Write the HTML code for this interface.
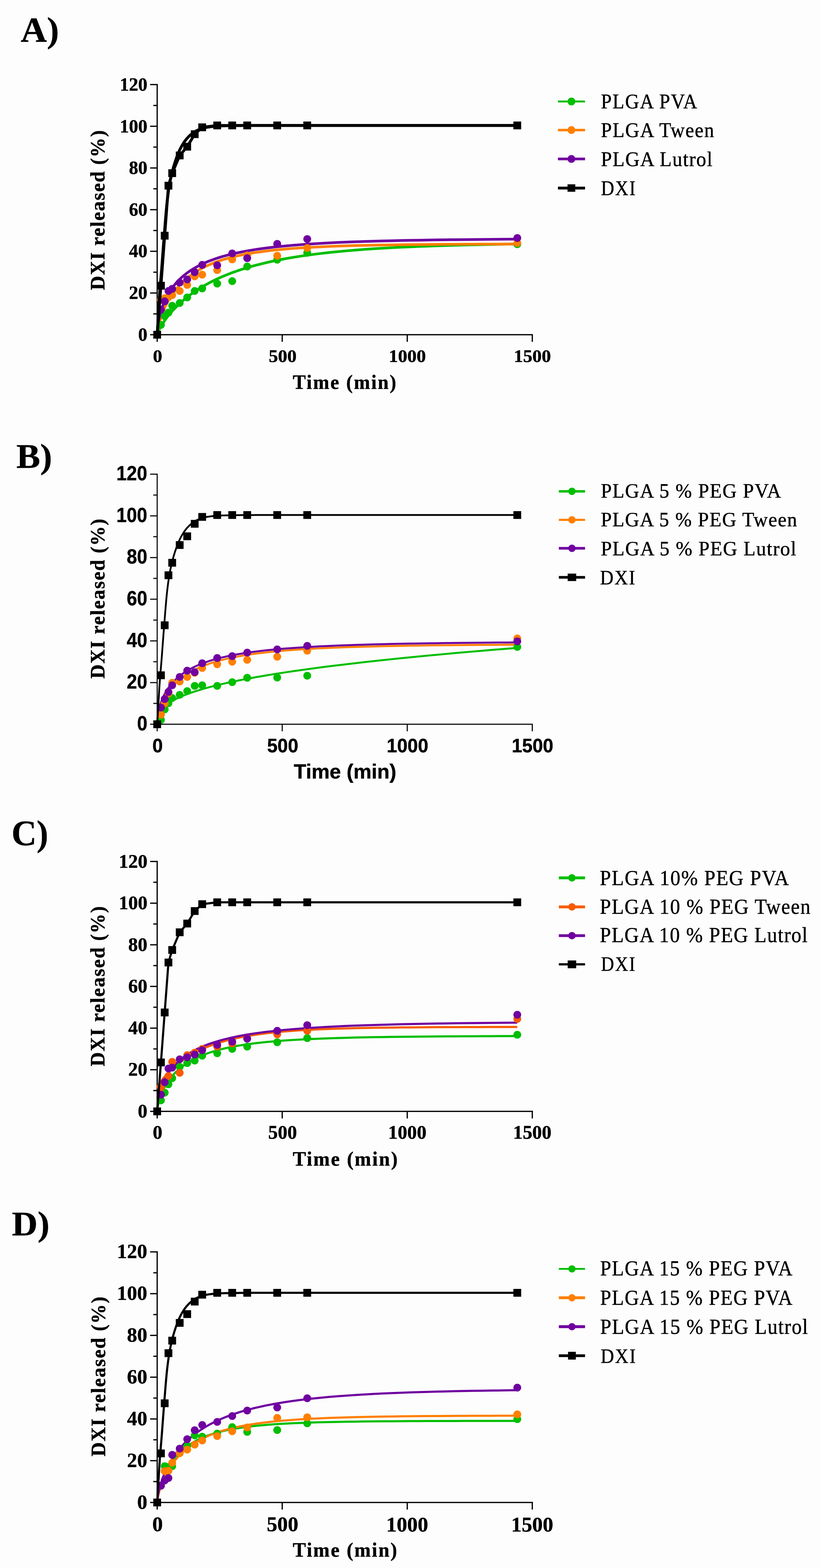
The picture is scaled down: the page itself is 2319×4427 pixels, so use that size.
<!DOCTYPE html>
<html><head><meta charset="utf-8"><title>DXI release profiles</title>
<style>
html,body{margin:0;padding:0;background:#fdfdfd;}
svg{display:block;}
text{fill:#000;stroke:#000;stroke-width:0.7px;}
</style></head><body>
<svg width="2319" height="4427" viewBox="0 0 2319 4427">
<rect width="2319" height="4427" fill="#fdfdfd"/>
<g><text transform="translate(58.58 117.62) scale(1.03 1)" font-family="Liberation Serif, serif" font-weight="bold" font-size="99.44">A)</text>
<path d="M444 238.8 V945 H1503.5" fill="none" stroke="#000" stroke-width="3.5" stroke-linecap="square"/>
<path d="M424 945 H444 M433 886.15 H444 M424 827.3 H444 M433 768.45 H444 M424 709.6 H444 M433 650.75 H444 M424 591.9 H444 M433 533.05 H444 M424 474.2 H444 M433 415.35 H444 M424 356.5 H444 M433 297.65 H444 M424 238.8 H444 M444 945 V965 M797.17 945 V965 M1150.33 945 V965 M1503.5 945 V965" fill="none" stroke="#000" stroke-width="3.5"/>
<text transform="translate(390.23 961.77) scale(0.98 1)" font-family="Liberation Serif, serif" font-weight="bold" font-size="53.24">0</text>
<text transform="translate(364.18 844.07) scale(0.98 1)" font-family="Liberation Serif, serif" font-weight="bold" font-size="53.24">20</text>
<text transform="translate(364.18 726.37) scale(0.98 1)" font-family="Liberation Serif, serif" font-weight="bold" font-size="53.24">40</text>
<text transform="translate(364.18 608.67) scale(0.98 1)" font-family="Liberation Serif, serif" font-weight="bold" font-size="53.24">60</text>
<text transform="translate(364.18 490.97) scale(0.98 1)" font-family="Liberation Serif, serif" font-weight="bold" font-size="53.24">80</text>
<text transform="translate(338.13 373.54) scale(0.98 1)" font-family="Liberation Serif, serif" font-weight="bold" font-size="53.24">100</text>
<text transform="translate(338.13 255.84) scale(0.98 1)" font-family="Liberation Serif, serif" font-weight="bold" font-size="53.24">120</text>
<text transform="translate(431.93 1021.51) scale(1.02 1)" font-family="Liberation Serif, serif" font-weight="bold" font-size="51.47">0</text>
<text transform="translate(758.95 1021.51) scale(1.02 1)" font-family="Liberation Serif, serif" font-weight="bold" font-size="51.47">500</text>
<text transform="translate(1098 1021.77) scale(1.02 1)" font-family="Liberation Serif, serif" font-weight="bold" font-size="51.47">1000</text>
<text transform="translate(1451.17 1021.77) scale(1.02 1)" font-family="Liberation Serif, serif" font-weight="bold" font-size="51.47">1500</text>
<text transform="translate(826.9 1097.96) scale(0.96 1)" font-family="Liberation Serif, serif" font-weight="bold" font-size="57.33" letter-spacing="3.34">Time (min)</text>
<text transform="translate(294.92 819.11) rotate(-90) scale(0.99 1)" font-family="Liberation Serif, serif" font-weight="bold" font-size="56.11" letter-spacing="2.41">DXI released (%)</text>
<path d="M444 945 L444.35 943.53 L444.71 942.39 L445.06 941.36 L445.41 940.4 L445.77 939.48 L446.12 938.59 L446.47 937.73 L446.83 936.9 L447.84 934.61 L448.85 932.45 L449.87 930.38 L450.88 928.4 L451.9 926.47 L452.91 924.61 L453.92 922.79 L454.94 921.02 L455.95 919.3 L456.97 917.61 L457.98 915.95 L459 914.33 L460.01 912.73 L461.02 911.17 L462.04 909.63 L463.05 908.12 L464.07 906.63 L465.08 905.17 L466.1 903.72 L467.11 902.3 L468.12 900.9 L469.14 899.51 L470.15 898.15 L471.17 896.8 L472.18 895.47 L473.2 894.16 L474.21 892.86 L475.22 891.58 L476.24 890.31 L477.25 889.06 L478.27 887.82 L479.28 886.6 L480.29 885.38 L481.31 884.19 L482.32 883 L483.34 881.83 L484.35 880.67 L485.37 879.52 L486.38 878.38 L490.45 873.93 L494.52 869.65 L498.59 865.52 L502.66 861.53 L506.73 857.68 L510.8 853.95 L514.87 850.35 L518.94 846.85 L523.01 843.46 L527.08 840.17 L531.15 836.97 L535.22 833.87 L539.3 830.85 L543.37 827.92 L547.44 825.06 L551.51 822.28 L555.58 819.57 L559.65 816.94 L563.72 814.36 L567.79 811.86 L571.86 809.42 L575.93 807.03 L580 804.71 L584.07 802.44 L588.14 800.22 L592.21 798.06 L596.28 795.94 L600.35 793.88 L604.42 791.86 L608.49 789.89 L612.56 787.96 L616.63 786.08 L620.7 784.24 L624.77 782.44 L628.84 780.67 L632.91 778.95 L636.98 777.26 L641.06 775.61 L645.13 774 L649.2 772.42 L653.27 770.87 L657.34 769.35 L661.41 767.87 L665.48 766.42 L669.55 764.99 L673.62 763.6 L677.69 762.23 L681.76 760.89 L685.83 759.58 L689.9 758.3 L693.97 757.04 L698.04 755.8 L702.11 754.59 L706.18 753.4 L710.25 752.24 L714.32 751.1 L718.39 749.98 L722.46 748.88 L726.53 747.81 L751.86 741.55 L777.19 736 L802.53 731.04 L827.86 726.61 L853.19 722.65 L878.52 719.09 L903.85 715.9 L929.18 713.03 L954.51 710.44 L979.84 708.11 L1005.17 706 L1030.5 704.09 L1055.83 702.36 L1081.16 700.8 L1106.49 699.38 L1131.82 698.1 L1157.15 696.93 L1182.48 695.86 L1207.81 694.9 L1233.14 694.02 L1258.48 693.21 L1283.81 692.48 L1309.14 691.81 L1334.47 691.2 L1359.8 690.65 L1385.13 690.14 L1410.46 689.67 L1435.79 689.25 L1461.12 688.86" fill="none" stroke="#00be00" stroke-width="7.5" stroke-linejoin="round"/>
<path d="M444 945 L444.35 940.73 L444.71 937.9 L445.06 935.46 L445.41 933.24 L445.77 931.18 L446.12 929.25 L446.47 927.41 L446.83 925.65 L447.84 920.95 L448.85 916.64 L449.87 912.64 L450.88 908.88 L451.9 905.32 L452.91 901.94 L453.92 898.7 L454.94 895.59 L455.95 892.61 L456.97 889.72 L457.98 886.94 L459 884.24 L460.01 881.63 L461.02 879.1 L462.04 876.63 L463.05 874.23 L464.07 871.9 L465.08 869.62 L466.1 867.4 L467.11 865.24 L468.12 863.12 L469.14 861.05 L470.15 859.03 L471.17 857.05 L472.18 855.11 L473.2 853.21 L474.21 851.35 L475.22 849.53 L476.24 847.74 L477.25 845.99 L478.27 844.27 L479.28 842.58 L480.29 840.92 L481.31 839.29 L482.32 837.69 L483.34 836.12 L484.35 834.57 L485.37 833.05 L486.38 831.56 L490.45 825.8 L494.52 820.4 L498.59 815.31 L502.66 810.52 L506.73 805.98 L510.8 801.69 L514.87 797.61 L518.94 793.74 L523.01 790.06 L527.08 786.55 L531.15 783.2 L535.22 780.01 L539.3 776.96 L543.37 774.04 L547.44 771.25 L551.51 768.58 L555.58 766.02 L559.65 763.56 L563.72 761.2 L567.79 758.94 L571.86 756.76 L575.93 754.67 L580 752.66 L584.07 750.72 L588.14 748.86 L592.21 747.07 L596.28 745.34 L600.35 743.67 L604.42 742.06 L608.49 740.51 L612.56 739.02 L616.63 737.57 L620.7 736.18 L624.77 734.83 L628.84 733.53 L632.91 732.27 L636.98 731.06 L641.06 729.88 L645.13 728.75 L649.2 727.65 L653.27 726.58 L657.34 725.55 L661.41 724.55 L665.48 723.58 L669.55 722.65 L673.62 721.74 L677.69 720.86 L681.76 720.01 L685.83 719.18 L689.9 718.38 L693.97 717.61 L698.04 716.85 L702.11 716.12 L706.18 715.41 L710.25 714.73 L714.32 714.06 L718.39 713.41 L722.46 712.78 L726.53 712.17 L751.86 708.73 L777.19 705.86 L802.53 703.43 L827.86 701.38 L853.19 699.64 L878.52 698.15 L903.85 696.88 L929.18 695.8 L954.51 694.86 L979.84 694.05 L1005.17 693.36 L1030.5 692.75 L1055.83 692.23 L1081.16 691.78 L1106.49 691.38 L1131.82 691.04 L1157.15 690.73 L1182.48 690.47 L1207.81 690.24 L1233.14 690.04 L1258.48 689.86 L1283.81 689.7 L1309.14 689.56 L1334.47 689.44 L1359.8 689.34 L1385.13 689.24 L1410.46 689.16 L1435.79 689.08 L1461.12 689.02" fill="none" stroke="#ff7f00" stroke-width="7.5" stroke-linejoin="round"/>
<path d="M444 945 L444.35 936.1 L444.71 931.39 L445.06 927.59 L445.41 924.29 L445.77 921.32 L446.12 918.61 L446.47 916.08 L446.83 913.71 L447.84 907.57 L448.85 902.15 L449.87 897.25 L450.88 892.76 L451.9 888.59 L452.91 884.69 L453.92 881.02 L454.94 877.55 L455.95 874.25 L456.97 871.11 L457.98 868.1 L459 865.22 L460.01 862.45 L461.02 859.79 L462.04 857.22 L463.05 854.73 L464.07 852.33 L465.08 850.01 L466.1 847.75 L467.11 845.57 L468.12 843.44 L469.14 841.37 L470.15 839.36 L471.17 837.41 L472.18 835.5 L473.2 833.63 L474.21 831.82 L475.22 830.04 L476.24 828.31 L477.25 826.62 L478.27 824.96 L479.28 823.34 L480.29 821.76 L481.31 820.2 L482.32 818.68 L483.34 817.19 L484.35 815.73 L485.37 814.3 L486.38 812.89 L490.45 807.5 L494.52 802.49 L498.59 797.8 L502.66 793.41 L506.73 789.28 L510.8 785.38 L514.87 781.7 L518.94 778.21 L523.01 774.9 L527.08 771.76 L531.15 768.76 L535.22 765.91 L539.3 763.19 L543.37 760.59 L547.44 758.1 L551.51 755.72 L555.58 753.44 L559.65 751.24 L563.72 749.14 L567.79 747.12 L571.86 745.18 L575.93 743.3 L580 741.5 L584.07 739.77 L588.14 738.09 L592.21 736.48 L596.28 734.92 L600.35 733.41 L604.42 731.96 L608.49 730.55 L612.56 729.19 L616.63 727.87 L620.7 726.6 L624.77 725.36 L628.84 724.17 L632.91 723.01 L636.98 721.89 L641.06 720.8 L645.13 719.74 L649.2 718.71 L653.27 717.71 L657.34 716.75 L661.41 715.81 L665.48 714.89 L669.55 714 L673.62 713.14 L677.69 712.3 L681.76 711.48 L685.83 710.69 L689.9 709.92 L693.97 709.16 L698.04 708.43 L702.11 707.72 L706.18 707.02 L710.25 706.34 L714.32 705.68 L718.39 705.04 L722.46 704.41 L726.53 703.8 L751.86 700.31 L777.19 697.31 L802.53 694.71 L827.86 692.44 L853.19 690.46 L878.52 688.72 L903.85 687.18 L929.18 685.83 L954.51 684.62 L979.84 683.55 L1005.17 682.59 L1030.5 681.74 L1055.83 680.97 L1081.16 680.28 L1106.49 679.66 L1131.82 679.1 L1157.15 678.59 L1182.48 678.14 L1207.81 677.72 L1233.14 677.34 L1258.48 677 L1283.81 676.69 L1309.14 676.4 L1334.47 676.15 L1359.8 675.91 L1385.13 675.69 L1410.46 675.49 L1435.79 675.31 L1461.12 675.14" fill="none" stroke="#7000a0" stroke-width="7.5" stroke-linejoin="round"/>
<circle cx="444" cy="945" r="11" fill="#00be00"/>
<circle cx="454.6" cy="917.34" r="11" fill="#00be00"/>
<circle cx="465.19" cy="892.62" r="11" fill="#00be00"/>
<circle cx="475.79" cy="882.62" r="11" fill="#00be00"/>
<circle cx="486.38" cy="863.2" r="11" fill="#00be00"/>
<circle cx="507.57" cy="855.55" r="11" fill="#00be00"/>
<circle cx="528.76" cy="839.66" r="11" fill="#00be00"/>
<circle cx="549.95" cy="821.41" r="11" fill="#00be00"/>
<circle cx="571.14" cy="814.35" r="11" fill="#00be00"/>
<circle cx="613.52" cy="800.82" r="11" fill="#00be00"/>
<circle cx="655.9" cy="793.76" r="11" fill="#00be00"/>
<circle cx="698.28" cy="752.56" r="11" fill="#00be00"/>
<circle cx="783.04" cy="733.14" r="11" fill="#00be00"/>
<circle cx="867.8" cy="713.72" r="11" fill="#00be00"/>
<circle cx="1461.12" cy="689.59" r="11" fill="#00be00"/>
<circle cx="444" cy="945" r="11" fill="#ff7f00"/>
<circle cx="454.6" cy="846.72" r="11" fill="#ff7f00"/>
<circle cx="465.19" cy="842.01" r="11" fill="#ff7f00"/>
<circle cx="475.79" cy="839.07" r="11" fill="#ff7f00"/>
<circle cx="486.38" cy="833.18" r="11" fill="#ff7f00"/>
<circle cx="507.57" cy="821.41" r="11" fill="#ff7f00"/>
<circle cx="528.76" cy="804.35" r="11" fill="#ff7f00"/>
<circle cx="549.95" cy="780.22" r="11" fill="#ff7f00"/>
<circle cx="571.14" cy="775.51" r="11" fill="#ff7f00"/>
<circle cx="613.52" cy="762.56" r="11" fill="#ff7f00"/>
<circle cx="655.9" cy="732.55" r="11" fill="#ff7f00"/>
<circle cx="698.28" cy="721.37" r="11" fill="#ff7f00"/>
<circle cx="783.04" cy="721.96" r="11" fill="#ff7f00"/>
<circle cx="867.8" cy="700.18" r="11" fill="#ff7f00"/>
<circle cx="1461.12" cy="686.06" r="11" fill="#ff7f00"/>
<circle cx="444" cy="945" r="11" fill="#7000a0"/>
<circle cx="454.6" cy="874.38" r="11" fill="#7000a0"/>
<circle cx="465.19" cy="850.84" r="11" fill="#7000a0"/>
<circle cx="475.79" cy="821.41" r="11" fill="#7000a0"/>
<circle cx="486.38" cy="815.53" r="11" fill="#7000a0"/>
<circle cx="507.57" cy="797.88" r="11" fill="#7000a0"/>
<circle cx="528.76" cy="789.05" r="11" fill="#7000a0"/>
<circle cx="549.95" cy="768.45" r="11" fill="#7000a0"/>
<circle cx="571.14" cy="747.85" r="11" fill="#7000a0"/>
<circle cx="613.52" cy="749.03" r="11" fill="#7000a0"/>
<circle cx="655.9" cy="715.49" r="11" fill="#7000a0"/>
<circle cx="698.28" cy="729.02" r="11" fill="#7000a0"/>
<circle cx="783.04" cy="688.41" r="11" fill="#7000a0"/>
<circle cx="867.8" cy="674.88" r="11" fill="#7000a0"/>
<circle cx="1461.12" cy="671.94" r="11" fill="#7000a0"/>
<path d="M444 945 L445.41 921.46 L446.83 897.92 L448.24 874.1 L449.65 849.57 L451.06 827.3 L452.48 808.82 L453.89 792.26 L455.3 775.91 L456.71 758.26 L458.13 739.65 L459.54 720.62 L460.95 701.6 L462.36 682.99 L463.78 665.2 L465.19 647.53 L466.6 629.8 L468.02 612.49 L469.43 596.06 L470.84 580.99 L472.25 567.75 L473.67 555.97 L475.08 545.12 L476.49 535.2 L477.9 526.21 L479.32 518.16 L480.73 510.76 L482.14 503.81 L483.55 497.28 L484.97 491.14 L486.38 485.35 L489.91 472.26 L493.44 460.64 L496.98 449.91 L500.51 440.08 L504.04 431.19 L507.57 423.3 L511.1 416.39 L514.63 410.06 L518.16 404.26 L521.7 399 L525.23 394.29 L528.76 390.14 L532.29 386.44 L535.82 382.96 L539.36 379.73 L542.89 376.76 L546.42 374.1 L549.95 371.77 L553.48 369.8 L557.01 368.12 L560.54 366.54 L564.08 365.07 L567.61 363.73 L571.14 362.51 L574.67 361.45 L578.2 360.54 L581.74 359.8 L585.27 359.23 L588.8 358.71 L592.33 358.23 L595.86 357.77 L599.39 357.35 L602.92 356.96 L606.46 356.61 L609.99 356.29 L613.52 356.01 L617.05 355.78 L620.58 355.58 L624.12 355.43 L627.65 355.32 L631.18 355.24 L634.71 355.16 L638.24 355.09 L641.77 355.01 L645.31 354.94 L648.84 354.88 L652.37 354.81 L655.9 354.75 L659.43 354.69 L662.96 354.64 L666.5 354.58 L670.03 354.53 L673.56 354.49 L677.09 354.44 L680.62 354.4 L684.15 354.37 L687.68 354.33 L691.22 354.3 L694.75 354.27 L698.28 354.24 L701.81 354.22 L705.34 354.2 L708.88 354.18 L712.41 354.17 L715.94 354.16 L719.47 354.15 L723 354.15 L726.53 354.15 L754.79 354.15 L783.04 354.15 L811.29 354.15 L839.55 354.15 L867.8 354.15 L896.05 354.15 L924.31 354.15 L952.56 354.15 L980.81 354.15 L1009.07 354.15 L1037.32 354.15 L1065.57 354.15 L1093.83 354.15 L1122.08 354.15 L1150.33 354.15 L1178.59 354.15 L1206.84 354.15 L1235.09 354.15 L1263.35 354.15 L1291.6 354.15 L1319.85 354.15 L1348.11 354.15 L1376.36 354.15 L1404.61 354.15 L1432.87 354.15 L1461.12 354.15" fill="none" stroke="#000" stroke-width="8" stroke-linejoin="round"/>
<path d="M444 945 L454.6 806.7 L465.19 665.46 L475.79 524.22 L486.38 488.91 L507.57 438.89 L528.76 414.17 L549.95 378.86 L571.14 359.44 L613.52 354.15 L655.9 354.15 L698.28 354.15 L783.04 354.15 L867.8 354.15 L1461.12 354.15" fill="none" stroke="#000" stroke-width="8" stroke-linejoin="round"/>
<rect x="433" y="934" width="22" height="22" fill="#000"/>
<rect x="443.6" y="795.7" width="22" height="22" fill="#000"/>
<rect x="454.19" y="654.46" width="22" height="22" fill="#000"/>
<rect x="464.79" y="513.22" width="22" height="22" fill="#000"/>
<rect x="475.38" y="477.91" width="22" height="22" fill="#000"/>
<rect x="496.57" y="427.89" width="22" height="22" fill="#000"/>
<rect x="517.76" y="403.17" width="22" height="22" fill="#000"/>
<rect x="538.95" y="367.86" width="22" height="22" fill="#000"/>
<rect x="560.14" y="348.44" width="22" height="22" fill="#000"/>
<rect x="602.52" y="343.15" width="22" height="22" fill="#000"/>
<rect x="644.9" y="343.15" width="22" height="22" fill="#000"/>
<rect x="687.28" y="343.15" width="22" height="22" fill="#000"/>
<rect x="772.04" y="343.15" width="22" height="22" fill="#000"/>
<rect x="856.8" y="343.15" width="22" height="22" fill="#000"/>
<rect x="1450.12" y="343.15" width="22" height="22" fill="#000"/>
<path d="M1576 286.6 H1652.5" stroke="#00be00" stroke-width="5.5"/>
<circle cx="1614" cy="286.6" r="11" fill="#00be00"/>
<text transform="translate(1697.36 305.6) scale(0.93 1)" font-family="Liberation Serif, serif" font-size="58.77" letter-spacing="2.49">PLGA PVA</text>
<path d="M1576 367.2 H1652.5" stroke="#ff7f00" stroke-width="7"/>
<circle cx="1614" cy="367.2" r="11" fill="#ff7f00"/>
<text transform="translate(1697.35 386.9) scale(0.94 1)" font-family="Liberation Serif, serif" font-size="58.77" letter-spacing="2.25">PLGA Tween</text>
<path d="M1576 448.7 H1652.5" stroke="#7000a0" stroke-width="7.5"/>
<circle cx="1614" cy="448.7" r="11" fill="#7000a0"/>
<text transform="translate(1697.32 469) scale(0.95 1)" font-family="Liberation Serif, serif" font-size="58.77" letter-spacing="1.97">PLGA Lutrol</text>
<path d="M1576 530.9 H1652.5" stroke="#000" stroke-width="8"/>
<rect x="1603" y="520.4" width="22" height="21" fill="#000"/>
<text transform="translate(1697.45 550.7) scale(0.88 1)" font-family="Liberation Serif, serif" font-size="58.77" letter-spacing="3.21">DXI</text></g>
<g><text transform="translate(46.18 1320.62) scale(1.03 1)" font-family="Liberation Serif, serif" font-weight="bold" font-size="98">B)</text>
<path d="M444 1338.8 V2044.8 H1503.5" fill="none" stroke="#000" stroke-width="3" stroke-linecap="square"/>
<path d="M424 2044.8 H444 M433 1985.97 H444 M424 1927.13 H444 M433 1868.3 H444 M424 1809.47 H444 M433 1750.63 H444 M424 1691.8 H444 M433 1632.97 H444 M424 1574.13 H444 M433 1515.3 H444 M424 1456.47 H444 M433 1397.63 H444 M424 1338.8 H444 M444 2044.8 V2064.8 M797.17 2044.8 V2064.8 M1150.33 2044.8 V2064.8 M1503.5 2044.8 V2064.8" fill="none" stroke="#000" stroke-width="3"/>
<text transform="translate(387.16 2062.13) scale(0.91 1)" font-family="Liberation Sans, sans-serif" font-weight="bold" font-size="57.46">0</text>
<text transform="translate(357.91 1944.46) scale(0.91 1)" font-family="Liberation Sans, sans-serif" font-weight="bold" font-size="57.46">20</text>
<text transform="translate(357.91 1826.79) scale(0.91 1)" font-family="Liberation Sans, sans-serif" font-weight="bold" font-size="57.46">40</text>
<text transform="translate(357.91 1709.13) scale(0.91 1)" font-family="Liberation Sans, sans-serif" font-weight="bold" font-size="57.46">60</text>
<text transform="translate(357.91 1591.46) scale(0.91 1)" font-family="Liberation Sans, sans-serif" font-weight="bold" font-size="57.46">80</text>
<text transform="translate(328.67 1473.79) scale(0.91 1)" font-family="Liberation Sans, sans-serif" font-weight="bold" font-size="57.46">100</text>
<text transform="translate(328.67 1356.13) scale(0.91 1)" font-family="Liberation Sans, sans-serif" font-weight="bold" font-size="57.46">120</text>
<text transform="translate(430.5 2123.84) scale(0.94 1)" font-family="Liberation Sans, sans-serif" font-weight="bold" font-size="56.2">0</text>
<text transform="translate(754.4 2123.84) scale(0.94 1)" font-family="Liberation Sans, sans-serif" font-weight="bold" font-size="56.2">500</text>
<text transform="translate(1092.27 2123.84) scale(0.94 1)" font-family="Liberation Sans, sans-serif" font-weight="bold" font-size="56.2">1000</text>
<text transform="translate(1445.44 2123.84) scale(0.94 1)" font-family="Liberation Sans, sans-serif" font-weight="bold" font-size="56.2">1500</text>
<text transform="translate(829.82 2197.8) scale(0.99 1)" font-family="Liberation Sans, sans-serif" font-weight="bold" font-size="58.09">Time (min)</text>
<text transform="translate(295.22 1915.91) rotate(-90) scale(0.99 1)" font-family="Liberation Serif, serif" font-weight="bold" font-size="56.11" letter-spacing="2.41">DXI released (%)</text>
<path d="M444 2044.79 L444.35 2033.88 L444.71 2030.64 L445.06 2028.32 L445.41 2026.44 L445.77 2024.84 L446.12 2023.43 L446.47 2022.16 L446.83 2021 L447.84 2018.11 L448.85 2015.66 L449.87 2013.51 L450.88 2011.59 L451.9 2009.83 L452.91 2008.21 L453.92 2006.71 L454.94 2005.29 L455.95 2003.96 L456.97 2002.69 L457.98 2001.49 L459 2000.34 L460.01 1999.24 L461.02 1998.18 L462.04 1997.15 L463.05 1996.17 L464.07 1995.21 L465.08 1994.29 L466.1 1993.39 L467.11 1992.52 L468.12 1991.67 L469.14 1990.85 L470.15 1990.04 L471.17 1989.26 L472.18 1988.49 L473.2 1987.74 L474.21 1987.01 L475.22 1986.29 L476.24 1985.58 L477.25 1984.89 L478.27 1984.21 L479.28 1983.55 L480.29 1982.89 L481.31 1982.25 L482.32 1981.62 L483.34 1981 L484.35 1980.39 L485.37 1979.79 L486.38 1979.19 L490.45 1976.9 L494.52 1974.73 L498.59 1972.67 L502.66 1970.7 L506.73 1968.82 L510.8 1967.01 L514.87 1965.26 L518.94 1963.58 L523.01 1961.96 L527.08 1960.38 L531.15 1958.86 L535.22 1957.38 L539.3 1955.94 L543.37 1954.53 L547.44 1953.17 L551.51 1951.83 L555.58 1950.53 L559.65 1949.26 L563.72 1948.01 L567.79 1946.79 L571.86 1945.6 L575.93 1944.43 L580 1943.28 L584.07 1942.15 L588.14 1941.04 L592.21 1939.96 L596.28 1938.89 L600.35 1937.84 L604.42 1936.8 L608.49 1935.78 L612.56 1934.78 L616.63 1933.79 L620.7 1932.82 L624.77 1931.86 L628.84 1930.92 L632.91 1929.98 L636.98 1929.06 L641.06 1928.15 L645.13 1927.26 L649.2 1926.37 L653.27 1925.5 L657.34 1924.64 L661.41 1923.78 L665.48 1922.94 L669.55 1922.1 L673.62 1921.28 L677.69 1920.46 L681.76 1919.66 L685.83 1918.86 L689.9 1918.07 L693.97 1917.29 L698.04 1916.52 L702.11 1915.75 L706.18 1914.99 L710.25 1914.24 L714.32 1913.5 L718.39 1912.76 L722.46 1912.03 L726.53 1911.31 L751.86 1906.95 L777.19 1902.8 L802.53 1898.85 L827.86 1895.08 L853.19 1891.45 L878.52 1887.96 L903.85 1884.6 L929.18 1881.35 L954.51 1878.21 L979.84 1875.16 L1005.17 1872.2 L1030.5 1869.32 L1055.83 1866.52 L1081.16 1863.8 L1106.49 1861.13 L1131.82 1858.54 L1157.15 1856 L1182.48 1853.51 L1207.81 1851.08 L1233.14 1848.7 L1258.48 1846.37 L1283.81 1844.08 L1309.14 1841.84 L1334.47 1839.63 L1359.8 1837.47 L1385.13 1835.34 L1410.46 1833.24 L1435.79 1831.19 L1461.12 1829.16" fill="none" stroke="#00be00" stroke-width="5.5" stroke-linejoin="round"/>
<path d="M444 2044.8 L444.35 2038.47 L444.71 2034.96 L445.06 2032.1 L445.41 2029.59 L445.77 2027.32 L446.12 2025.23 L446.47 2023.27 L446.83 2021.43 L447.84 2016.63 L448.85 2012.37 L449.87 2008.49 L450.88 2004.91 L451.9 2001.58 L452.91 1998.45 L453.92 1995.49 L454.94 1992.69 L455.95 1990.02 L456.97 1987.46 L457.98 1985.01 L459 1982.66 L460.01 1980.4 L461.02 1978.22 L462.04 1976.11 L463.05 1974.06 L464.07 1972.09 L465.08 1970.17 L466.1 1968.31 L467.11 1966.5 L468.12 1964.74 L469.14 1963.02 L470.15 1961.35 L471.17 1959.72 L472.18 1958.13 L473.2 1956.58 L474.21 1955.06 L475.22 1953.58 L476.24 1952.13 L477.25 1950.72 L478.27 1949.33 L479.28 1947.97 L480.29 1946.64 L481.31 1945.33 L482.32 1944.05 L483.34 1942.8 L484.35 1941.57 L485.37 1940.36 L486.38 1939.18 L490.45 1934.62 L494.52 1930.38 L498.59 1926.4 L502.66 1922.66 L506.73 1919.13 L510.8 1915.8 L514.87 1912.65 L518.94 1909.66 L523.01 1906.82 L527.08 1904.12 L531.15 1901.54 L535.22 1899.08 L539.3 1896.73 L543.37 1894.49 L547.44 1892.34 L551.51 1890.28 L555.58 1888.3 L559.65 1886.4 L563.72 1884.57 L567.79 1882.82 L571.86 1881.13 L575.93 1879.5 L580 1877.94 L584.07 1876.43 L588.14 1874.97 L592.21 1873.56 L596.28 1872.2 L600.35 1870.89 L604.42 1869.62 L608.49 1868.39 L612.56 1867.21 L616.63 1866.06 L620.7 1864.94 L624.77 1863.86 L628.84 1862.82 L632.91 1861.81 L636.98 1860.82 L641.06 1859.87 L645.13 1858.95 L649.2 1858.05 L653.27 1857.18 L657.34 1856.33 L661.41 1855.51 L665.48 1854.71 L669.55 1853.93 L673.62 1853.17 L677.69 1852.44 L681.76 1851.72 L685.83 1851.03 L689.9 1850.35 L693.97 1849.69 L698.04 1849.05 L702.11 1848.42 L706.18 1847.81 L710.25 1847.22 L714.32 1846.64 L718.39 1846.08 L722.46 1845.53 L726.53 1844.99 L751.86 1841.94 L777.19 1839.32 L802.53 1837.04 L827.86 1835.07 L853.19 1833.34 L878.52 1831.83 L903.85 1830.49 L929.18 1829.32 L954.51 1828.28 L979.84 1827.35 L1005.17 1826.53 L1030.5 1825.79 L1055.83 1825.13 L1081.16 1824.54 L1106.49 1824.01 L1131.82 1823.54 L1157.15 1823.11 L1182.48 1822.72 L1207.81 1822.37 L1233.14 1822.05 L1258.48 1821.77 L1283.81 1821.51 L1309.14 1821.27 L1334.47 1821.05 L1359.8 1820.86 L1385.13 1820.68 L1410.46 1820.51 L1435.79 1820.36 L1461.12 1820.23" fill="none" stroke="#ff7f00" stroke-width="5.5" stroke-linejoin="round"/>
<path d="M444 2044.8 L444.35 2035.62 L444.71 2031.08 L445.06 2027.49 L445.41 2024.41 L445.77 2021.66 L446.12 2019.16 L446.47 2016.86 L446.83 2014.7 L447.84 2009.17 L448.85 2004.33 L449.87 1999.99 L450.88 1996.04 L451.9 1992.39 L452.91 1989 L453.92 1985.81 L454.94 1982.81 L455.95 1979.97 L456.97 1977.28 L457.98 1974.7 L459 1972.24 L460.01 1969.88 L461.02 1967.62 L462.04 1965.44 L463.05 1963.34 L464.07 1961.31 L465.08 1959.35 L466.1 1957.45 L467.11 1955.61 L468.12 1953.83 L469.14 1952.09 L470.15 1950.41 L471.17 1948.77 L472.18 1947.18 L473.2 1945.62 L474.21 1944.11 L475.22 1942.63 L476.24 1941.19 L477.25 1939.78 L478.27 1938.41 L479.28 1937.06 L480.29 1935.75 L481.31 1934.46 L482.32 1933.2 L483.34 1931.97 L484.35 1930.76 L485.37 1929.57 L486.38 1928.41 L490.45 1923.97 L494.52 1919.85 L498.59 1916 L502.66 1912.39 L506.73 1909.01 L510.8 1905.82 L514.87 1902.81 L518.94 1899.96 L523.01 1897.26 L527.08 1894.7 L531.15 1892.26 L535.22 1889.93 L539.3 1887.72 L543.37 1885.6 L547.44 1883.57 L551.51 1881.63 L555.58 1879.77 L559.65 1877.99 L563.72 1876.27 L567.79 1874.63 L571.86 1873.04 L575.93 1871.52 L580 1870.05 L584.07 1868.63 L588.14 1867.26 L592.21 1865.95 L596.28 1864.67 L600.35 1863.44 L604.42 1862.25 L608.49 1861.1 L612.56 1859.99 L616.63 1858.91 L620.7 1857.87 L624.77 1856.85 L628.84 1855.87 L632.91 1854.92 L636.98 1854 L641.06 1853.1 L645.13 1852.23 L649.2 1851.39 L653.27 1850.56 L657.34 1849.77 L661.41 1848.99 L665.48 1848.24 L669.55 1847.5 L673.62 1846.79 L677.69 1846.09 L681.76 1845.42 L685.83 1844.76 L689.9 1844.11 L693.97 1843.49 L698.04 1842.88 L702.11 1842.28 L706.18 1841.71 L710.25 1841.14 L714.32 1840.59 L718.39 1840.05 L722.46 1839.53 L726.53 1839.01 L751.86 1836.09 L777.19 1833.55 L802.53 1831.34 L827.86 1829.4 L853.19 1827.69 L878.52 1826.18 L903.85 1824.84 L929.18 1823.65 L954.51 1822.58 L979.84 1821.63 L1005.17 1820.77 L1030.5 1819.99 L1055.83 1819.29 L1081.16 1818.66 L1106.49 1818.09 L1131.82 1817.57 L1157.15 1817.09 L1182.48 1816.66 L1207.81 1816.26 L1233.14 1815.9 L1258.48 1815.57 L1283.81 1815.27 L1309.14 1814.99 L1334.47 1814.73 L1359.8 1814.5 L1385.13 1814.28 L1410.46 1814.08 L1435.79 1813.89 L1461.12 1813.72" fill="none" stroke="#7000a0" stroke-width="5.5" stroke-linejoin="round"/>
<circle cx="444" cy="2044.8" r="11" fill="#00be00"/>
<circle cx="454.6" cy="2032.44" r="11" fill="#00be00"/>
<circle cx="465.19" cy="2003.03" r="11" fill="#00be00"/>
<circle cx="475.79" cy="1985.38" r="11" fill="#00be00"/>
<circle cx="486.38" cy="1970.67" r="11" fill="#00be00"/>
<circle cx="507.57" cy="1961.85" r="11" fill="#00be00"/>
<circle cx="528.76" cy="1951.25" r="11" fill="#00be00"/>
<circle cx="549.95" cy="1936.55" r="11" fill="#00be00"/>
<circle cx="571.14" cy="1934.78" r="11" fill="#00be00"/>
<circle cx="613.52" cy="1936.55" r="11" fill="#00be00"/>
<circle cx="655.9" cy="1925.96" r="11" fill="#00be00"/>
<circle cx="698.28" cy="1913.6" r="11" fill="#00be00"/>
<circle cx="783.04" cy="1913.01" r="11" fill="#00be00"/>
<circle cx="867.8" cy="1907.72" r="11" fill="#00be00"/>
<circle cx="1461.12" cy="1826.53" r="11" fill="#00be00"/>
<circle cx="444" cy="2044.8" r="11" fill="#ff7f00"/>
<circle cx="454.6" cy="2017.74" r="11" fill="#ff7f00"/>
<circle cx="465.19" cy="1985.97" r="11" fill="#ff7f00"/>
<circle cx="475.79" cy="1958.32" r="11" fill="#ff7f00"/>
<circle cx="486.38" cy="1927.72" r="11" fill="#ff7f00"/>
<circle cx="507.57" cy="1924.19" r="11" fill="#ff7f00"/>
<circle cx="528.76" cy="1911.25" r="11" fill="#ff7f00"/>
<circle cx="549.95" cy="1899.48" r="11" fill="#ff7f00"/>
<circle cx="571.14" cy="1885.95" r="11" fill="#ff7f00"/>
<circle cx="613.52" cy="1875.36" r="11" fill="#ff7f00"/>
<circle cx="655.9" cy="1868.3" r="11" fill="#ff7f00"/>
<circle cx="698.28" cy="1863" r="11" fill="#ff7f00"/>
<circle cx="783.04" cy="1854.18" r="11" fill="#ff7f00"/>
<circle cx="867.8" cy="1837.12" r="11" fill="#ff7f00"/>
<circle cx="1461.12" cy="1802.41" r="11" fill="#ff7f00"/>
<circle cx="444" cy="2044.8" r="11" fill="#7000a0"/>
<circle cx="454.6" cy="1997.73" r="11" fill="#7000a0"/>
<circle cx="465.19" cy="1973.61" r="11" fill="#7000a0"/>
<circle cx="475.79" cy="1953.61" r="11" fill="#7000a0"/>
<circle cx="486.38" cy="1934.78" r="11" fill="#7000a0"/>
<circle cx="507.57" cy="1911.25" r="11" fill="#7000a0"/>
<circle cx="528.76" cy="1893.6" r="11" fill="#7000a0"/>
<circle cx="549.95" cy="1897.72" r="11" fill="#7000a0"/>
<circle cx="571.14" cy="1872.42" r="11" fill="#7000a0"/>
<circle cx="613.52" cy="1857.71" r="11" fill="#7000a0"/>
<circle cx="655.9" cy="1852.41" r="11" fill="#7000a0"/>
<circle cx="698.28" cy="1842.41" r="11" fill="#7000a0"/>
<circle cx="783.04" cy="1833.59" r="11" fill="#7000a0"/>
<circle cx="867.8" cy="1823.59" r="11" fill="#7000a0"/>
<circle cx="1461.12" cy="1810.64" r="11" fill="#7000a0"/>
<path d="M444 2044.8 L445.41 2021.27 L446.83 1997.73 L448.24 1973.92 L449.65 1949.4 L451.06 1927.13 L452.48 1908.66 L453.89 1892.1 L455.3 1875.76 L456.71 1858.11 L458.13 1839.51 L459.54 1820.49 L460.95 1801.47 L462.36 1782.87 L463.78 1765.08 L465.19 1747.42 L466.6 1729.69 L468.02 1712.38 L469.43 1695.96 L470.84 1680.89 L472.25 1667.65 L473.67 1655.88 L475.08 1645.04 L476.49 1635.12 L477.9 1626.13 L479.32 1618.08 L480.73 1610.69 L482.14 1603.74 L483.55 1597.21 L484.97 1591.07 L486.38 1585.28 L489.91 1572.2 L493.44 1560.58 L496.98 1549.85 L500.51 1540.02 L504.04 1531.14 L507.57 1523.25 L511.1 1516.34 L514.63 1510.01 L518.16 1504.21 L521.7 1498.95 L525.23 1494.24 L528.76 1490.1 L532.29 1486.4 L535.82 1482.92 L539.36 1479.69 L542.89 1476.72 L546.42 1474.06 L549.95 1471.73 L553.48 1469.76 L557.01 1468.08 L560.54 1466.5 L564.08 1465.04 L567.61 1463.69 L571.14 1462.48 L574.67 1461.41 L578.2 1460.5 L581.74 1459.77 L585.27 1459.19 L588.8 1458.68 L592.33 1458.2 L595.86 1457.74 L599.39 1457.32 L602.92 1456.93 L606.46 1456.57 L609.99 1456.26 L613.52 1455.98 L617.05 1455.74 L620.58 1455.55 L624.12 1455.4 L627.65 1455.29 L631.18 1455.21 L634.71 1455.13 L638.24 1455.05 L641.77 1454.98 L645.31 1454.91 L648.84 1454.84 L652.37 1454.78 L655.9 1454.72 L659.43 1454.66 L662.96 1454.6 L666.5 1454.55 L670.03 1454.5 L673.56 1454.46 L677.09 1454.41 L680.62 1454.37 L684.15 1454.33 L687.68 1454.3 L691.22 1454.27 L694.75 1454.24 L698.28 1454.21 L701.81 1454.19 L705.34 1454.17 L708.88 1454.15 L712.41 1454.14 L715.94 1454.13 L719.47 1454.12 L723 1454.11 L726.53 1454.11 L754.79 1454.11 L783.04 1454.11 L811.29 1454.11 L839.55 1454.11 L867.8 1454.11 L896.05 1454.11 L924.31 1454.11 L952.56 1454.11 L980.81 1454.11 L1009.07 1454.11 L1037.32 1454.11 L1065.57 1454.11 L1093.83 1454.11 L1122.08 1454.11 L1150.33 1454.11 L1178.59 1454.11 L1206.84 1454.11 L1235.09 1454.11 L1263.35 1454.11 L1291.6 1454.11 L1319.85 1454.11 L1348.11 1454.11 L1376.36 1454.11 L1404.61 1454.11 L1432.87 1454.11 L1461.12 1454.11" fill="none" stroke="#000" stroke-width="5" stroke-linejoin="round"/>
<rect x="433" y="2033.8" width="22" height="22" fill="#000"/>
<rect x="443.6" y="1895.54" width="22" height="22" fill="#000"/>
<rect x="454.19" y="1754.34" width="22" height="22" fill="#000"/>
<rect x="464.79" y="1613.14" width="22" height="22" fill="#000"/>
<rect x="475.38" y="1577.84" width="22" height="22" fill="#000"/>
<rect x="496.57" y="1527.83" width="22" height="22" fill="#000"/>
<rect x="517.76" y="1503.12" width="22" height="22" fill="#000"/>
<rect x="538.95" y="1467.82" width="22" height="22" fill="#000"/>
<rect x="560.14" y="1448.41" width="22" height="22" fill="#000"/>
<rect x="602.52" y="1443.11" width="22" height="22" fill="#000"/>
<rect x="644.9" y="1443.11" width="22" height="22" fill="#000"/>
<rect x="687.28" y="1443.11" width="22" height="22" fill="#000"/>
<rect x="772.04" y="1443.11" width="22" height="22" fill="#000"/>
<rect x="856.8" y="1443.11" width="22" height="22" fill="#000"/>
<rect x="1450.12" y="1443.11" width="22" height="22" fill="#000"/>
<path d="M1578.5 1387.2 H1652.5" stroke="#00be00" stroke-width="7"/>
<circle cx="1615.5" cy="1387.2" r="10.5" fill="#00be00"/>
<text transform="translate(1696.94 1404.6) scale(0.96 1)" font-family="Liberation Serif, serif" font-size="57.69" letter-spacing="2.11">PLGA 5 % PEG PVA</text>
<path d="M1578.5 1467.7 H1652.5" stroke="#ff7f00" stroke-width="6"/>
<circle cx="1615.5" cy="1467.7" r="10.5" fill="#ff7f00"/>
<text transform="translate(1696.93 1486.2) scale(0.96 1)" font-family="Liberation Serif, serif" font-size="57.69" letter-spacing="2.03">PLGA 5 % PEG Tween</text>
<path d="M1578.5 1548.1 H1652.5" stroke="#7000a0" stroke-width="7.5"/>
<circle cx="1615.5" cy="1548.1" r="10.5" fill="#7000a0"/>
<text transform="translate(1696.92 1568.2) scale(0.97 1)" font-family="Liberation Serif, serif" font-size="57.69" letter-spacing="1.89">PLGA 5 % PEG Lutrol</text>
<path d="M1578.5 1630 H1652.5" stroke="#000" stroke-width="7.3"/>
<rect x="1603.5" y="1619.5" width="24" height="21" fill="#000"/>
<text transform="translate(1694.92 1650.1) scale(0.91 1)" font-family="Liberation Serif, serif" font-size="57.69" letter-spacing="3.15">DXI</text></g>
<g><text transform="translate(32.58 2386.92) scale(0.97 1)" font-family="Liberation Serif, serif" font-weight="bold" font-size="101.33">C)</text>
<path d="M444 2432.3 V3137.8 H1503.5" fill="none" stroke="#000" stroke-width="3.5" stroke-linecap="square"/>
<path d="M424 3137.8 H444 M433 3079.01 H444 M424 3020.22 H444 M433 2961.43 H444 M424 2902.63 H444 M433 2843.84 H444 M424 2785.05 H444 M433 2726.26 H444 M424 2667.47 H444 M433 2608.68 H444 M424 2549.88 H444 M433 2491.09 H444 M424 2432.3 H444 M444 3137.8 V3157.8 M797.17 3137.8 V3157.8 M1150.33 3137.8 V3157.8 M1503.5 3137.8 V3157.8" fill="none" stroke="#000" stroke-width="3.5"/>
<text transform="translate(389.17 3154.99) scale(0.99 1)" font-family="Liberation Serif, serif" font-weight="bold" font-size="54.56">0</text>
<text transform="translate(362.28 3037.4) scale(0.99 1)" font-family="Liberation Serif, serif" font-weight="bold" font-size="54.56">20</text>
<text transform="translate(362.28 2919.82) scale(0.99 1)" font-family="Liberation Serif, serif" font-weight="bold" font-size="54.56">40</text>
<text transform="translate(362.28 2802.24) scale(0.99 1)" font-family="Liberation Serif, serif" font-weight="bold" font-size="54.56">60</text>
<text transform="translate(362.28 2684.65) scale(0.99 1)" font-family="Liberation Serif, serif" font-weight="bold" font-size="54.56">80</text>
<text transform="translate(335.4 2567.34) scale(0.99 1)" font-family="Liberation Serif, serif" font-weight="bold" font-size="54.56">100</text>
<text transform="translate(335.4 2449.76) scale(0.99 1)" font-family="Liberation Serif, serif" font-weight="bold" font-size="54.56">120</text>
<text transform="translate(431.48 3215.02) scale(0.98 1)" font-family="Liberation Serif, serif" font-weight="bold" font-size="55.29">0</text>
<text transform="translate(757.59 3215.02) scale(0.98 1)" font-family="Liberation Serif, serif" font-weight="bold" font-size="55.29">500</text>
<text transform="translate(1096.16 3215.29) scale(0.98 1)" font-family="Liberation Serif, serif" font-weight="bold" font-size="55.29">1000</text>
<text transform="translate(1449.32 3215.29) scale(0.98 1)" font-family="Liberation Serif, serif" font-weight="bold" font-size="55.29">1500</text>
<text transform="translate(826.89 3291.05) scale(0.98 1)" font-family="Liberation Serif, serif" font-weight="bold" font-size="56.89" letter-spacing="3.32">Time (min)</text>
<text transform="translate(295.08 3010.71) rotate(-90) scale(0.98 1)" font-family="Liberation Serif, serif" font-weight="bold" font-size="56.78" letter-spacing="2.44">DXI released (%)</text>
<path d="M444 3137.8 L444.35 3132.98 L444.71 3130.05 L445.06 3127.6 L445.41 3125.42 L445.77 3123.42 L446.12 3121.56 L446.47 3119.81 L446.83 3118.14 L447.84 3113.76 L448.85 3109.81 L449.87 3106.18 L450.88 3102.81 L451.9 3099.64 L452.91 3096.65 L453.92 3093.82 L454.94 3091.11 L455.95 3088.52 L456.97 3086.04 L457.98 3083.65 L459 3081.35 L460.01 3079.13 L461.02 3076.98 L462.04 3074.9 L463.05 3072.89 L464.07 3070.93 L465.08 3069.03 L466.1 3067.17 L467.11 3065.37 L468.12 3063.62 L469.14 3061.91 L470.15 3060.24 L471.17 3058.61 L472.18 3057.02 L473.2 3055.46 L474.21 3053.94 L475.22 3052.45 L476.24 3051 L477.25 3049.57 L478.27 3048.17 L479.28 3046.8 L480.29 3045.46 L481.31 3044.15 L482.32 3042.86 L483.34 3041.59 L484.35 3040.35 L485.37 3039.13 L486.38 3037.93 L490.45 3033.32 L494.52 3029.02 L498.59 3024.99 L502.66 3021.19 L506.73 3017.62 L510.8 3014.25 L514.87 3011.05 L518.94 3008.03 L523.01 3005.15 L527.08 3002.42 L531.15 2999.82 L535.22 2997.34 L539.3 2994.98 L543.37 2992.72 L547.44 2990.56 L551.51 2988.49 L555.58 2986.51 L559.65 2984.62 L563.72 2982.8 L567.79 2981.05 L571.86 2979.37 L575.93 2977.76 L580 2976.21 L584.07 2974.72 L588.14 2973.28 L592.21 2971.9 L596.28 2970.57 L600.35 2969.28 L604.42 2968.04 L608.49 2966.85 L612.56 2965.7 L616.63 2964.58 L620.7 2963.5 L624.77 2962.46 L628.84 2961.46 L632.91 2960.49 L636.98 2959.54 L641.06 2958.63 L645.13 2957.75 L649.2 2956.9 L653.27 2956.07 L657.34 2955.27 L661.41 2954.5 L665.48 2953.74 L669.55 2953.01 L673.62 2952.31 L677.69 2951.62 L681.76 2950.96 L685.83 2950.31 L689.9 2949.68 L693.97 2949.08 L698.04 2948.48 L702.11 2947.91 L706.18 2947.35 L710.25 2946.81 L714.32 2946.28 L718.39 2945.77 L722.46 2945.28 L726.53 2944.79 L751.86 2942.06 L777.19 2939.76 L802.53 2937.8 L827.86 2936.12 L853.19 2934.69 L878.52 2933.45 L903.85 2932.38 L929.18 2931.45 L954.51 2930.65 L979.84 2929.94 L1005.17 2929.33 L1030.5 2928.79 L1055.83 2928.32 L1081.16 2927.9 L1106.49 2927.54 L1131.82 2927.21 L1157.15 2926.93 L1182.48 2926.67 L1207.81 2926.45 L1233.14 2926.25 L1258.48 2926.07 L1283.81 2925.91 L1309.14 2925.77 L1334.47 2925.64 L1359.8 2925.53 L1385.13 2925.43 L1410.46 2925.34 L1435.79 2925.25 L1461.12 2925.18" fill="none" stroke="#00be00" stroke-width="6" stroke-linejoin="round"/>
<path d="M444 3070.5 L444.35 3069.67 L444.71 3068.94 L445.06 3068.26 L445.41 3067.6 L445.77 3066.95 L446.12 3066.33 L446.47 3065.71 L446.83 3065.1 L447.84 3063.41 L448.85 3061.78 L449.87 3060.19 L450.88 3058.65 L451.9 3057.14 L452.91 3055.66 L453.92 3054.22 L454.94 3052.8 L455.95 3051.4 L456.97 3050.03 L457.98 3048.68 L459 3047.35 L460.01 3046.05 L461.02 3044.76 L462.04 3043.49 L463.05 3042.23 L464.07 3041 L465.08 3039.78 L466.1 3038.58 L467.11 3037.39 L468.12 3036.22 L469.14 3035.06 L470.15 3033.91 L471.17 3032.78 L472.18 3031.67 L473.2 3030.56 L474.21 3029.47 L475.22 3028.39 L476.24 3027.33 L477.25 3026.27 L478.27 3025.23 L479.28 3024.2 L480.29 3023.18 L481.31 3022.17 L482.32 3021.17 L483.34 3020.18 L484.35 3019.2 L485.37 3018.24 L486.38 3017.28 L490.45 3013.53 L494.52 3009.94 L498.59 3006.48 L502.66 3003.15 L506.73 2999.95 L510.8 2996.86 L514.87 2993.89 L518.94 2991.02 L523.01 2988.25 L527.08 2985.58 L531.15 2983 L535.22 2980.51 L539.3 2978.1 L543.37 2975.78 L547.44 2973.53 L551.51 2971.35 L555.58 2969.25 L559.65 2967.21 L563.72 2965.24 L567.79 2963.33 L571.86 2961.48 L575.93 2959.7 L580 2957.96 L584.07 2956.29 L588.14 2954.66 L592.21 2953.09 L596.28 2951.56 L600.35 2950.08 L604.42 2948.65 L608.49 2947.26 L612.56 2945.91 L616.63 2944.6 L620.7 2943.33 L624.77 2942.1 L628.84 2940.91 L632.91 2939.75 L636.98 2938.63 L641.06 2937.54 L645.13 2936.48 L649.2 2935.45 L653.27 2934.46 L657.34 2933.49 L661.41 2932.55 L665.48 2931.64 L669.55 2930.75 L673.62 2929.89 L677.69 2929.06 L681.76 2928.25 L685.83 2927.46 L689.9 2926.7 L693.97 2925.95 L698.04 2925.23 L702.11 2924.53 L706.18 2923.85 L710.25 2923.19 L714.32 2922.54 L718.39 2921.92 L722.46 2921.31 L726.53 2920.72 L751.86 2917.4 L777.19 2914.61 L802.53 2912.26 L827.86 2910.29 L853.19 2908.62 L878.52 2907.21 L903.85 2906.02 L929.18 2905.02 L954.51 2904.16 L979.84 2903.44 L1005.17 2902.82 L1030.5 2902.3 L1055.83 2901.85 L1081.16 2901.47 L1106.49 2901.15 L1131.82 2900.87 L1157.15 2900.64 L1182.48 2900.43 L1207.81 2900.26 L1233.14 2900.12 L1258.48 2899.99 L1283.81 2899.88 L1309.14 2899.79 L1334.47 2899.71 L1359.8 2899.64 L1385.13 2899.59 L1410.46 2899.54 L1435.79 2899.49 L1461.12 2899.46" fill="none" stroke="#f85a00" stroke-width="6" stroke-linejoin="round"/>
<path d="M444 3137.8 L444.35 3128.48 L444.71 3123.81 L445.06 3120.1 L445.41 3116.91 L445.77 3114.07 L446.12 3111.47 L446.47 3109.08 L446.83 3106.84 L447.84 3101.06 L448.85 3096 L449.87 3091.46 L450.88 3087.31 L451.9 3083.47 L452.91 3079.9 L453.92 3076.54 L454.94 3073.38 L455.95 3070.37 L456.97 3067.52 L457.98 3064.79 L459 3062.18 L460.01 3059.68 L461.02 3057.28 L462.04 3054.96 L463.05 3052.72 L464.07 3050.56 L465.08 3048.47 L466.1 3046.45 L467.11 3044.48 L468.12 3042.58 L469.14 3040.73 L470.15 3038.93 L471.17 3037.17 L472.18 3035.46 L473.2 3033.8 L474.21 3032.18 L475.22 3030.59 L476.24 3029.04 L477.25 3027.53 L478.27 3026.05 L479.28 3024.61 L480.29 3023.19 L481.31 3021.81 L482.32 3020.45 L483.34 3019.12 L484.35 3017.82 L485.37 3016.54 L486.38 3015.29 L490.45 3010.5 L494.52 3006.03 L498.59 3001.86 L502.66 2997.95 L506.73 2994.27 L510.8 2990.8 L514.87 2987.52 L518.94 2984.41 L523.01 2981.45 L527.08 2978.65 L531.15 2975.97 L535.22 2973.42 L539.3 2970.99 L543.37 2968.66 L547.44 2966.43 L551.51 2964.29 L555.58 2962.24 L559.65 2960.27 L563.72 2958.37 L567.79 2956.55 L571.86 2954.8 L575.93 2953.1 L580 2951.47 L584.07 2949.9 L588.14 2948.38 L592.21 2946.92 L596.28 2945.5 L600.35 2944.13 L604.42 2942.8 L608.49 2941.52 L612.56 2940.27 L616.63 2939.07 L620.7 2937.9 L624.77 2936.77 L628.84 2935.67 L632.91 2934.6 L636.98 2933.56 L641.06 2932.56 L645.13 2931.58 L649.2 2930.63 L653.27 2929.71 L657.34 2928.81 L661.41 2927.93 L665.48 2927.08 L669.55 2926.26 L673.62 2925.45 L677.69 2924.67 L681.76 2923.9 L685.83 2923.15 L689.9 2922.43 L693.97 2921.72 L698.04 2921.03 L702.11 2920.36 L706.18 2919.7 L710.25 2919.06 L714.32 2918.43 L718.39 2917.82 L722.46 2917.22 L726.53 2916.64 L751.86 2913.31 L777.19 2910.41 L802.53 2907.87 L827.86 2905.64 L853.19 2903.67 L878.52 2901.92 L903.85 2900.37 L929.18 2898.98 L954.51 2897.74 L979.84 2896.62 L1005.17 2895.61 L1030.5 2894.7 L1055.83 2893.88 L1081.16 2893.13 L1106.49 2892.46 L1131.82 2891.84 L1157.15 2891.28 L1182.48 2890.76 L1207.81 2890.29 L1233.14 2889.86 L1258.48 2889.47 L1283.81 2889.1 L1309.14 2888.77 L1334.47 2888.46 L1359.8 2888.18 L1385.13 2887.92 L1410.46 2887.67 L1435.79 2887.45 L1461.12 2887.24" fill="none" stroke="#7000a0" stroke-width="6" stroke-linejoin="round"/>
<circle cx="444" cy="3137.8" r="11" fill="#00be00"/>
<circle cx="454.6" cy="3106.64" r="11" fill="#00be00"/>
<circle cx="465.19" cy="3084.89" r="11" fill="#00be00"/>
<circle cx="475.79" cy="3061.37" r="11" fill="#00be00"/>
<circle cx="486.38" cy="3044.32" r="11" fill="#00be00"/>
<circle cx="507.57" cy="3011.99" r="11" fill="#00be00"/>
<circle cx="528.76" cy="3001.4" r="11" fill="#00be00"/>
<circle cx="549.95" cy="2994.35" r="11" fill="#00be00"/>
<circle cx="571.14" cy="2980.83" r="11" fill="#00be00"/>
<circle cx="613.52" cy="2973.77" r="11" fill="#00be00"/>
<circle cx="655.9" cy="2961.43" r="11" fill="#00be00"/>
<circle cx="698.28" cy="2954.96" r="11" fill="#00be00"/>
<circle cx="783.04" cy="2942.61" r="11" fill="#00be00"/>
<circle cx="867.8" cy="2930.85" r="11" fill="#00be00"/>
<circle cx="1461.12" cy="2921.45" r="11" fill="#00be00"/>
<circle cx="444" cy="3137.8" r="11" fill="#f85a00"/>
<circle cx="454.6" cy="3070.19" r="11" fill="#f85a00"/>
<circle cx="465.19" cy="3055.49" r="11" fill="#f85a00"/>
<circle cx="475.79" cy="3037.85" r="11" fill="#f85a00"/>
<circle cx="486.38" cy="2997.88" r="11" fill="#f85a00"/>
<circle cx="507.57" cy="3029.04" r="11" fill="#f85a00"/>
<circle cx="528.76" cy="2979.06" r="11" fill="#f85a00"/>
<circle cx="549.95" cy="2972.01" r="11" fill="#f85a00"/>
<circle cx="571.14" cy="2961.43" r="11" fill="#f85a00"/>
<circle cx="613.52" cy="2954.96" r="11" fill="#f85a00"/>
<circle cx="655.9" cy="2946.14" r="11" fill="#f85a00"/>
<circle cx="698.28" cy="2932.03" r="11" fill="#f85a00"/>
<circle cx="783.04" cy="2920.27" r="11" fill="#f85a00"/>
<circle cx="867.8" cy="2910.28" r="11" fill="#f85a00"/>
<circle cx="1461.12" cy="2876.77" r="11" fill="#f85a00"/>
<circle cx="444" cy="3137.8" r="11" fill="#7000a0"/>
<circle cx="454.6" cy="3090.77" r="11" fill="#7000a0"/>
<circle cx="465.19" cy="3055.49" r="11" fill="#7000a0"/>
<circle cx="475.79" cy="3016.69" r="11" fill="#7000a0"/>
<circle cx="486.38" cy="3014.34" r="11" fill="#7000a0"/>
<circle cx="507.57" cy="2990.82" r="11" fill="#7000a0"/>
<circle cx="528.76" cy="2984.94" r="11" fill="#7000a0"/>
<circle cx="549.95" cy="2977.3" r="11" fill="#7000a0"/>
<circle cx="571.14" cy="2964.95" r="11" fill="#7000a0"/>
<circle cx="613.52" cy="2949.67" r="11" fill="#7000a0"/>
<circle cx="655.9" cy="2940.85" r="11" fill="#7000a0"/>
<circle cx="698.28" cy="2932.62" r="11" fill="#7000a0"/>
<circle cx="783.04" cy="2910.28" r="11" fill="#7000a0"/>
<circle cx="867.8" cy="2894.4" r="11" fill="#7000a0"/>
<circle cx="1461.12" cy="2865.01" r="11" fill="#7000a0"/>
<path d="M444 3137.8 L454.6 2999.64 L465.19 2858.54 L475.79 2717.44 L486.38 2682.16 L507.57 2632.19 L528.76 2607.5 L549.95 2572.22 L571.14 2552.82 L613.52 2547.53 L655.9 2547.53 L698.28 2547.53 L783.04 2547.53 L867.8 2547.53 L1461.12 2547.53" fill="none" stroke="#000" stroke-width="6" stroke-linejoin="round"/>
<rect x="433" y="3126.8" width="22" height="22" fill="#000"/>
<rect x="443.6" y="2988.64" width="22" height="22" fill="#000"/>
<rect x="454.19" y="2847.54" width="22" height="22" fill="#000"/>
<rect x="464.79" y="2706.44" width="22" height="22" fill="#000"/>
<rect x="475.38" y="2671.16" width="22" height="22" fill="#000"/>
<rect x="496.57" y="2621.19" width="22" height="22" fill="#000"/>
<rect x="517.76" y="2596.5" width="22" height="22" fill="#000"/>
<rect x="538.95" y="2561.22" width="22" height="22" fill="#000"/>
<rect x="560.14" y="2541.82" width="22" height="22" fill="#000"/>
<rect x="602.52" y="2536.53" width="22" height="22" fill="#000"/>
<rect x="644.9" y="2536.53" width="22" height="22" fill="#000"/>
<rect x="687.28" y="2536.53" width="22" height="22" fill="#000"/>
<rect x="772.04" y="2536.53" width="22" height="22" fill="#000"/>
<rect x="856.8" y="2536.53" width="22" height="22" fill="#000"/>
<rect x="1450.12" y="2536.53" width="22" height="22" fill="#000"/>
<path d="M1578.5 2478.4 H1652.5" stroke="#00be00" stroke-width="8"/>
<circle cx="1615.5" cy="2478.4" r="10.5" fill="#00be00"/>
<text transform="translate(1694.31 2499.2) scale(0.91 1)" font-family="Liberation Serif, serif" font-size="62" letter-spacing="2.34">PLGA 10% PEG PVA</text>
<path d="M1578.5 2560.4 H1652.5" stroke="#f85a00" stroke-width="8"/>
<circle cx="1615.5" cy="2560.4" r="10.5" fill="#f85a00"/>
<text transform="translate(1694.32 2579.9) scale(0.91 1)" font-family="Liberation Serif, serif" font-size="62" letter-spacing="2.17">PLGA 10 % PEG Tween</text>
<path d="M1578.5 2641.7 H1652.5" stroke="#7000a0" stroke-width="7.7"/>
<circle cx="1615.5" cy="2641.7" r="10.5" fill="#7000a0"/>
<text transform="translate(1694.32 2660) scale(0.91 1)" font-family="Liberation Serif, serif" font-size="62" letter-spacing="2.03">PLGA 10 % PEG Lutrol</text>
<path d="M1578.5 2722.7 H1652.5" stroke="#000" stroke-width="6.2"/>
<rect x="1603.5" y="2711.7" width="24" height="22" fill="#000"/>
<text transform="translate(1697.47 2741.4) scale(0.9 1)" font-family="Liberation Serif, serif" font-size="56.92" letter-spacing="3.11">DXI</text></g>
<g><text transform="translate(33.59 3487.85) scale(1.04 1)" font-family="Liberation Serif, serif" font-weight="bold" font-size="96.89">D)</text>
<path d="M444 3534.5 V4242 H1503.5" fill="none" stroke="#000" stroke-width="3.5" stroke-linecap="square"/>
<path d="M424 4242 H444 M433 4183.04 H444 M424 4124.08 H444 M433 4065.12 H444 M424 4006.17 H444 M433 3947.21 H444 M424 3888.25 H444 M433 3829.29 H444 M424 3770.33 H444 M433 3711.38 H444 M424 3652.42 H444 M433 3593.46 H444 M424 3534.5 H444 M444 4242 V4262 M797.17 4242 V4262 M1150.33 4242 V4262 M1503.5 4242 V4262" fill="none" stroke="#000" stroke-width="3.5"/>
<text transform="translate(387.53 4259.65) scale(1.02 1)" font-family="Liberation Serif, serif" font-weight="bold" font-size="56.03">0</text>
<text transform="translate(358.87 4141.73) scale(1.02 1)" font-family="Liberation Serif, serif" font-weight="bold" font-size="56.03">20</text>
<text transform="translate(358.87 4023.82) scale(1.02 1)" font-family="Liberation Serif, serif" font-weight="bold" font-size="56.03">40</text>
<text transform="translate(358.87 3905.9) scale(1.02 1)" font-family="Liberation Serif, serif" font-weight="bold" font-size="56.03">60</text>
<text transform="translate(358.87 3787.98) scale(1.02 1)" font-family="Liberation Serif, serif" font-weight="bold" font-size="56.03">80</text>
<text transform="translate(330.21 3670.35) scale(1.02 1)" font-family="Liberation Serif, serif" font-weight="bold" font-size="56.03">100</text>
<text transform="translate(330.21 3552.43) scale(1.02 1)" font-family="Liberation Serif, serif" font-weight="bold" font-size="56.03">120</text>
<text transform="translate(430.13 4323.41) scale(1 1)" font-family="Liberation Serif, serif" font-weight="bold" font-size="59.41">0</text>
<text transform="translate(753.57 4323.41) scale(1 1)" font-family="Liberation Serif, serif" font-weight="bold" font-size="59.41">500</text>
<text transform="translate(1090.68 4323.71) scale(1 1)" font-family="Liberation Serif, serif" font-weight="bold" font-size="59.41">1000</text>
<text transform="translate(1443.84 4323.71) scale(1 1)" font-family="Liberation Serif, serif" font-weight="bold" font-size="59.41">1500</text>
<text transform="translate(826.89 4394.88) scale(0.97 1)" font-family="Liberation Serif, serif" font-weight="bold" font-size="57.22" letter-spacing="3.33">Time (min)</text>
<text transform="translate(296.98 4112.01) rotate(-90) scale(0.97 1)" font-family="Liberation Serif, serif" font-weight="bold" font-size="57.22" letter-spacing="2.46">DXI released (%)</text>
<path d="M444 4242 L444.35 4237.14 L444.71 4233.99 L445.06 4231.3 L445.41 4228.87 L445.77 4226.62 L446.12 4224.51 L446.47 4222.52 L446.83 4220.62 L447.84 4215.56 L448.85 4210.97 L449.87 4206.73 L450.88 4202.76 L451.9 4199.03 L452.91 4195.49 L453.92 4192.12 L454.94 4188.9 L455.95 4185.82 L456.97 4182.86 L457.98 4180.01 L459 4177.26 L460.01 4174.61 L461.02 4172.04 L462.04 4169.55 L463.05 4167.13 L464.07 4164.79 L465.08 4162.51 L466.1 4160.3 L467.11 4158.14 L468.12 4156.04 L469.14 4154 L470.15 4152 L471.17 4150.05 L472.18 4148.15 L473.2 4146.3 L474.21 4144.48 L475.22 4142.71 L476.24 4140.97 L477.25 4139.27 L478.27 4137.61 L479.28 4135.98 L480.29 4134.39 L481.31 4132.82 L482.32 4131.29 L483.34 4129.79 L484.35 4128.32 L485.37 4126.87 L486.38 4125.46 L490.45 4120.02 L494.52 4114.97 L498.59 4110.25 L502.66 4105.84 L506.73 4101.69 L510.8 4097.8 L514.87 4094.14 L518.94 4090.68 L523.01 4087.41 L527.08 4084.33 L531.15 4081.4 L535.22 4078.63 L539.3 4075.99 L543.37 4073.49 L547.44 4071.12 L551.51 4068.85 L555.58 4066.7 L559.65 4064.64 L563.72 4062.68 L567.79 4060.81 L571.86 4059.02 L575.93 4057.32 L580 4055.68 L584.07 4054.12 L588.14 4052.62 L592.21 4051.19 L596.28 4049.82 L600.35 4048.5 L604.42 4047.24 L608.49 4046.03 L612.56 4044.87 L616.63 4043.75 L620.7 4042.68 L624.77 4041.65 L628.84 4040.66 L632.91 4039.71 L636.98 4038.79 L641.06 4037.91 L645.13 4037.06 L649.2 4036.24 L653.27 4035.46 L657.34 4034.7 L661.41 4033.97 L665.48 4033.26 L669.55 4032.59 L673.62 4031.93 L677.69 4031.3 L681.76 4030.69 L685.83 4030.1 L689.9 4029.54 L693.97 4028.99 L698.04 4028.46 L702.11 4027.95 L706.18 4027.46 L710.25 4026.98 L714.32 4026.52 L718.39 4026.08 L722.46 4025.65 L726.53 4025.23 L751.86 4022.93 L777.19 4021.05 L802.53 4019.51 L827.86 4018.24 L853.19 4017.19 L878.52 4016.31 L903.85 4015.58 L929.18 4014.96 L954.51 4014.45 L979.84 4014.01 L1005.17 4013.65 L1030.5 4013.33 L1055.83 4013.07 L1081.16 4012.84 L1106.49 4012.65 L1131.82 4012.49 L1157.15 4012.35 L1182.48 4012.23 L1207.81 4012.12 L1233.14 4012.03 L1258.48 4011.96 L1283.81 4011.89 L1309.14 4011.83 L1334.47 4011.78 L1359.8 4011.74 L1385.13 4011.7 L1410.46 4011.67 L1435.79 4011.64 L1461.12 4011.62" fill="none" stroke="#00be00" stroke-width="6" stroke-linejoin="round"/>
<path d="M444 4242 L444.35 4238 L444.71 4235.33 L445.06 4233.02 L445.41 4230.92 L445.77 4228.97 L446.12 4227.13 L446.47 4225.39 L446.83 4223.71 L447.84 4219.24 L448.85 4215.15 L449.87 4211.34 L450.88 4207.75 L451.9 4204.36 L452.91 4201.13 L453.92 4198.03 L454.94 4195.07 L455.95 4192.21 L456.97 4189.46 L457.98 4186.79 L459 4184.22 L460.01 4181.72 L461.02 4179.29 L462.04 4176.93 L463.05 4174.63 L464.07 4172.4 L465.08 4170.22 L466.1 4168.09 L467.11 4166.01 L468.12 4163.98 L469.14 4162 L470.15 4160.06 L471.17 4158.16 L472.18 4156.3 L473.2 4154.48 L474.21 4152.7 L475.22 4150.95 L476.24 4149.23 L477.25 4147.55 L478.27 4145.9 L479.28 4144.28 L480.29 4142.69 L481.31 4141.12 L482.32 4139.59 L483.34 4138.08 L484.35 4136.59 L485.37 4135.13 L486.38 4133.7 L490.45 4128.17 L494.52 4122.98 L498.59 4118.09 L502.66 4113.48 L506.73 4109.12 L510.8 4104.99 L514.87 4101.07 L518.94 4097.35 L523.01 4093.81 L527.08 4090.43 L531.15 4087.21 L535.22 4084.14 L539.3 4081.21 L543.37 4078.41 L547.44 4075.72 L551.51 4073.15 L555.58 4070.69 L559.65 4068.32 L563.72 4066.05 L567.79 4063.88 L571.86 4061.78 L575.93 4059.77 L580 4057.84 L584.07 4055.98 L588.14 4054.19 L592.21 4052.46 L596.28 4050.8 L600.35 4049.2 L604.42 4047.65 L608.49 4046.16 L612.56 4044.73 L616.63 4043.34 L620.7 4042 L624.77 4040.71 L628.84 4039.46 L632.91 4038.25 L636.98 4037.08 L641.06 4035.95 L645.13 4034.86 L649.2 4033.8 L653.27 4032.78 L657.34 4031.79 L661.41 4030.84 L665.48 4029.91 L669.55 4029.01 L673.62 4028.14 L677.69 4027.3 L681.76 4026.48 L685.83 4025.69 L689.9 4024.92 L693.97 4024.18 L698.04 4023.46 L702.11 4022.76 L706.18 4022.08 L710.25 4021.42 L714.32 4020.78 L718.39 4020.16 L722.46 4019.55 L726.53 4018.97 L751.86 4015.68 L777.19 4012.93 L802.53 4010.62 L827.86 4008.66 L853.19 4007 L878.52 4005.59 L903.85 4004.39 L929.18 4003.35 L954.51 4002.47 L979.84 4001.7 L1005.17 4001.04 L1030.5 4000.48 L1055.83 3999.98 L1081.16 3999.55 L1106.49 3999.18 L1131.82 3998.86 L1157.15 3998.58 L1182.48 3998.33 L1207.81 3998.11 L1233.14 3997.92 L1258.48 3997.76 L1283.81 3997.61 L1309.14 3997.48 L1334.47 3997.37 L1359.8 3997.27 L1385.13 3997.18 L1410.46 3997.11 L1435.79 3997.04 L1461.12 3996.98" fill="none" stroke="#ff7f00" stroke-width="6" stroke-linejoin="round"/>
<path d="M444 4242 L444.35 4236.42 L444.71 4233.02 L445.06 4230.16 L445.41 4227.6 L445.77 4225.25 L446.12 4223.06 L446.47 4221 L446.83 4219.04 L447.84 4213.84 L448.85 4209.13 L449.87 4204.78 L450.88 4200.73 L451.9 4196.9 L452.91 4193.27 L453.92 4189.81 L454.94 4186.51 L455.95 4183.33 L456.97 4180.27 L457.98 4177.32 L459 4174.46 L460.01 4171.7 L461.02 4169.02 L462.04 4166.41 L463.05 4163.88 L464.07 4161.41 L465.08 4159 L466.1 4156.66 L467.11 4154.36 L468.12 4152.12 L469.14 4149.94 L470.15 4147.79 L471.17 4145.7 L472.18 4143.64 L473.2 4141.63 L474.21 4139.66 L475.22 4137.72 L476.24 4135.82 L477.25 4133.95 L478.27 4132.12 L479.28 4130.32 L480.29 4128.55 L481.31 4126.81 L482.32 4125.1 L483.34 4123.42 L484.35 4121.77 L485.37 4120.14 L486.38 4118.53 L490.45 4112.33 L494.52 4106.49 L498.59 4100.95 L502.66 4095.71 L506.73 4090.72 L510.8 4085.96 L514.87 4081.43 L518.94 4077.1 L523.01 4072.95 L527.08 4068.97 L531.15 4065.16 L535.22 4061.49 L539.3 4057.97 L543.37 4054.58 L547.44 4051.31 L551.51 4048.16 L555.58 4045.13 L559.65 4042.2 L563.72 4039.36 L567.79 4036.63 L571.86 4033.98 L575.93 4031.41 L580 4028.93 L584.07 4026.53 L588.14 4024.2 L592.21 4021.94 L596.28 4019.75 L600.35 4017.63 L604.42 4015.56 L608.49 4013.56 L612.56 4011.61 L616.63 4009.72 L620.7 4007.88 L624.77 4006.09 L628.84 4004.35 L632.91 4002.66 L636.98 4001.01 L641.06 3999.41 L645.13 3997.85 L649.2 3996.32 L653.27 3994.84 L657.34 3993.4 L661.41 3991.99 L665.48 3990.61 L669.55 3989.28 L673.62 3987.97 L677.69 3986.7 L681.76 3985.45 L685.83 3984.24 L689.9 3983.05 L693.97 3981.9 L698.04 3980.77 L702.11 3979.67 L706.18 3978.59 L710.25 3977.54 L714.32 3976.51 L718.39 3975.5 L722.46 3974.52 L726.53 3973.56 L751.86 3968.04 L777.19 3963.21 L802.53 3958.98 L827.86 3955.25 L853.19 3951.95 L878.52 3949.02 L903.85 3946.41 L929.18 3944.09 L954.51 3942.01 L979.84 3940.14 L1005.17 3938.46 L1030.5 3936.96 L1055.83 3935.59 L1081.16 3934.36 L1106.49 3933.25 L1131.82 3932.24 L1157.15 3931.33 L1182.48 3930.5 L1207.81 3929.74 L1233.14 3929.05 L1258.48 3928.42 L1283.81 3927.85 L1309.14 3927.32 L1334.47 3926.84 L1359.8 3926.4 L1385.13 3926 L1410.46 3925.63 L1435.79 3925.29 L1461.12 3924.98" fill="none" stroke="#7000a0" stroke-width="6" stroke-linejoin="round"/>
<circle cx="444" cy="4242" r="11" fill="#00be00"/>
<circle cx="454.6" cy="4194.83" r="11" fill="#00be00"/>
<circle cx="465.19" cy="4139.41" r="11" fill="#00be00"/>
<circle cx="475.79" cy="4141.77" r="11" fill="#00be00"/>
<circle cx="486.38" cy="4139.41" r="11" fill="#00be00"/>
<circle cx="507.57" cy="4102.86" r="11" fill="#00be00"/>
<circle cx="528.76" cy="4082.81" r="11" fill="#00be00"/>
<circle cx="549.95" cy="4052.74" r="11" fill="#00be00"/>
<circle cx="571.14" cy="4056.28" r="11" fill="#00be00"/>
<circle cx="613.52" cy="4047.44" r="11" fill="#00be00"/>
<circle cx="655.9" cy="4029.16" r="11" fill="#00be00"/>
<circle cx="698.28" cy="4042.72" r="11" fill="#00be00"/>
<circle cx="783.04" cy="4037.41" r="11" fill="#00be00"/>
<circle cx="867.8" cy="4018.55" r="11" fill="#00be00"/>
<circle cx="1461.12" cy="4006.76" r="11" fill="#00be00"/>
<circle cx="444" cy="4242" r="11" fill="#ff7f00"/>
<circle cx="454.6" cy="4194.83" r="11" fill="#ff7f00"/>
<circle cx="465.19" cy="4153.56" r="11" fill="#ff7f00"/>
<circle cx="475.79" cy="4152.38" r="11" fill="#ff7f00"/>
<circle cx="486.38" cy="4129.98" r="11" fill="#ff7f00"/>
<circle cx="507.57" cy="4102.86" r="11" fill="#ff7f00"/>
<circle cx="528.76" cy="4092.84" r="11" fill="#ff7f00"/>
<circle cx="549.95" cy="4078.69" r="11" fill="#ff7f00"/>
<circle cx="571.14" cy="4066.89" r="11" fill="#ff7f00"/>
<circle cx="613.52" cy="4054.51" r="11" fill="#ff7f00"/>
<circle cx="655.9" cy="4040.95" r="11" fill="#ff7f00"/>
<circle cx="698.28" cy="4030.34" r="11" fill="#ff7f00"/>
<circle cx="783.04" cy="4003.22" r="11" fill="#ff7f00"/>
<circle cx="867.8" cy="4001.45" r="11" fill="#ff7f00"/>
<circle cx="1461.12" cy="3993.2" r="11" fill="#ff7f00"/>
<circle cx="444" cy="4242" r="11" fill="#7000a0"/>
<circle cx="454.6" cy="4194.83" r="11" fill="#7000a0"/>
<circle cx="465.19" cy="4180.09" r="11" fill="#7000a0"/>
<circle cx="475.79" cy="4173.02" r="11" fill="#7000a0"/>
<circle cx="486.38" cy="4107.57" r="11" fill="#7000a0"/>
<circle cx="507.57" cy="4089.89" r="11" fill="#7000a0"/>
<circle cx="528.76" cy="4063.36" r="11" fill="#7000a0"/>
<circle cx="549.95" cy="4038" r="11" fill="#7000a0"/>
<circle cx="571.14" cy="4023.26" r="11" fill="#7000a0"/>
<circle cx="613.52" cy="4014.42" r="11" fill="#7000a0"/>
<circle cx="655.9" cy="3997.91" r="11" fill="#7000a0"/>
<circle cx="698.28" cy="3982.58" r="11" fill="#7000a0"/>
<circle cx="783.04" cy="3973.74" r="11" fill="#7000a0"/>
<circle cx="867.8" cy="3947.8" r="11" fill="#7000a0"/>
<circle cx="1461.12" cy="3917.73" r="11" fill="#7000a0"/>
<path d="M444 4242 L445.41 4218.42 L446.83 4194.83 L448.24 4170.97 L449.65 4146.4 L451.06 4124.08 L452.48 4105.57 L453.89 4088.98 L455.3 4072.6 L456.71 4054.91 L458.13 4036.27 L459.54 4017.21 L460.95 3998.15 L462.36 3979.51 L463.78 3961.69 L465.19 3943.98 L466.6 3926.22 L468.02 3908.88 L469.43 3892.42 L470.84 3877.32 L472.25 3864.05 L473.67 3852.26 L475.08 3841.39 L476.49 3831.45 L477.9 3822.44 L479.32 3814.37 L480.73 3806.96 L482.14 3800 L483.55 3793.46 L484.97 3787.3 L486.38 3781.5 L489.91 3768.39 L493.44 3756.75 L496.98 3745.99 L500.51 3736.15 L504.04 3727.25 L507.57 3719.34 L511.1 3712.41 L514.63 3706.08 L518.16 3700.26 L521.7 3694.99 L525.23 3690.27 L528.76 3686.12 L532.29 3682.42 L535.82 3678.93 L539.36 3675.69 L542.89 3672.72 L546.42 3670.05 L549.95 3667.71 L553.48 3665.74 L557.01 3664.05 L560.54 3662.47 L564.08 3661 L567.61 3659.66 L571.14 3658.44 L574.67 3657.37 L578.2 3656.46 L581.74 3655.72 L585.27 3655.15 L588.8 3654.64 L592.33 3654.15 L595.86 3653.69 L599.39 3653.27 L602.92 3652.88 L606.46 3652.52 L609.99 3652.21 L613.52 3651.93 L617.05 3651.69 L620.58 3651.5 L624.12 3651.34 L627.65 3651.24 L631.18 3651.16 L634.71 3651.08 L638.24 3651 L641.77 3650.93 L645.31 3650.86 L648.84 3650.79 L652.37 3650.73 L655.9 3650.66 L659.43 3650.61 L662.96 3650.55 L666.5 3650.5 L670.03 3650.45 L673.56 3650.4 L677.09 3650.36 L680.62 3650.32 L684.15 3650.28 L687.68 3650.24 L691.22 3650.21 L694.75 3650.18 L698.28 3650.16 L701.81 3650.13 L705.34 3650.11 L708.88 3650.1 L712.41 3650.08 L715.94 3650.07 L719.47 3650.06 L723 3650.06 L726.53 3650.06 L754.79 3650.06 L783.04 3650.06 L811.29 3650.06 L839.55 3650.06 L867.8 3650.06 L896.05 3650.06 L924.31 3650.06 L952.56 3650.06 L980.81 3650.06 L1009.07 3650.06 L1037.32 3650.06 L1065.57 3650.06 L1093.83 3650.06 L1122.08 3650.06 L1150.33 3650.06 L1178.59 3650.06 L1206.84 3650.06 L1235.09 3650.06 L1263.35 3650.06 L1291.6 3650.06 L1319.85 3650.06 L1348.11 3650.06 L1376.36 3650.06 L1404.61 3650.06 L1432.87 3650.06 L1461.12 3650.06" fill="none" stroke="#000" stroke-width="6" stroke-linejoin="round"/>
<rect x="433" y="4231" width="22" height="22" fill="#000"/>
<rect x="443.6" y="4092.45" width="22" height="22" fill="#000"/>
<rect x="454.19" y="3950.95" width="22" height="22" fill="#000"/>
<rect x="464.79" y="3809.45" width="22" height="22" fill="#000"/>
<rect x="475.38" y="3774.07" width="22" height="22" fill="#000"/>
<rect x="496.57" y="3723.96" width="22" height="22" fill="#000"/>
<rect x="517.76" y="3699.2" width="22" height="22" fill="#000"/>
<rect x="538.95" y="3663.82" width="22" height="22" fill="#000"/>
<rect x="560.14" y="3644.36" width="22" height="22" fill="#000"/>
<rect x="602.52" y="3639.06" width="22" height="22" fill="#000"/>
<rect x="644.9" y="3639.06" width="22" height="22" fill="#000"/>
<rect x="687.28" y="3639.06" width="22" height="22" fill="#000"/>
<rect x="772.04" y="3639.06" width="22" height="22" fill="#000"/>
<rect x="856.8" y="3639.06" width="22" height="22" fill="#000"/>
<rect x="1450.12" y="3639.06" width="22" height="22" fill="#000"/>
<path d="M1578.5 3582.5 H1652.5" stroke="#00be00" stroke-width="5"/>
<circle cx="1615.5" cy="3582.5" r="10.3" fill="#00be00"/>
<text transform="translate(1695.32 3601.4) scale(0.9 1)" font-family="Liberation Serif, serif" font-size="62" letter-spacing="2.25">PLGA 15 % PEG PVA</text>
<path d="M1578.5 3664 H1652.5" stroke="#ff7f00" stroke-width="7.8"/>
<circle cx="1615.5" cy="3664" r="10.3" fill="#ff7f00"/>
<text transform="translate(1695.32 3683.7) scale(0.9 1)" font-family="Liberation Serif, serif" font-size="62" letter-spacing="2.25">PLGA 15 % PEG PVA</text>
<path d="M1578.5 3745.7 H1652.5" stroke="#7000a0" stroke-width="8.2"/>
<circle cx="1615.5" cy="3745.7" r="10.3" fill="#7000a0"/>
<text transform="translate(1695.31 3765.6) scale(0.91 1)" font-family="Liberation Serif, serif" font-size="62" letter-spacing="2.03">PLGA 15 % PEG Lutrol</text>
<path d="M1578.5 3827.6 H1652.5" stroke="#000" stroke-width="7.6"/>
<rect x="1604.5" y="3816.6" width="22" height="22" fill="#000"/>
<text transform="translate(1696.43 3847.5) scale(0.91 1)" font-family="Liberation Serif, serif" font-size="57.69" letter-spacing="3.15">DXI</text></g>
</svg>
</body></html>
